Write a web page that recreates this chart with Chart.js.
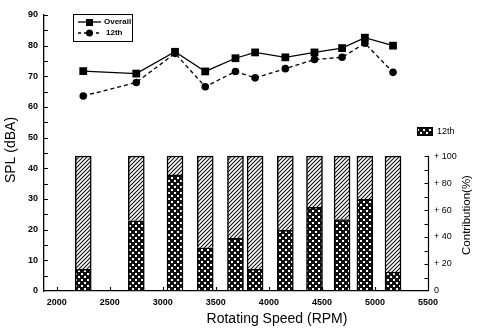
<!DOCTYPE html>
<html>
<head>
<meta charset="utf-8">
<script src="https://cdn.jsdelivr.net/npm/chart.js@4/dist/chart.umd.min.js"></script>
<style>
  html, body { margin: 0; padding: 0; background: #fff; }
  #wrap { width: 477px; height: 332px; }
</style>
</head>
<body>
<div id="wrap"><canvas id="grafico"></canvas></div>
<script>
// rotating speed of each measurement (RPM)
const rpm = [2250, 2750, 3115, 3400, 3685, 3870, 4155, 4430, 4690, 4905, 5170];
// SPL values (dBA)
const overall = [71.7, 70.9, 78.0, 71.6, 75.9, 77.8, 76.2, 77.8, 79.2, 82.6, 80.0];
const order12 = [63.6, 68.0, 77.5, 66.6, 71.6, 69.5, 72.5, 75.5, 76.2, 80.8, 71.3];
// contribution of the 12th order (%)
const contrib12 = [16, 52, 86, 32, 39, 16, 45, 62, 53, 68, 14];
// tick labels
const xTicks = [2000, 2500, 3000, 3500, 4000, 4500, 5000, 5500];
const yTicks = [0, 10, 20, 30, 40, 50, 60, 70, 80, 90];
const contribTicks = [0, 20, 40, 60, 80, 100];

const fonte = '"Liberation Sans", Arial, sans-serif';

function padraoCruzado() {
  var c = document.createElement('canvas');
  c.width = 6; c.height = 6;
  var g = c.getContext('2d');
  g.fillStyle = '#111';
  g.fillRect(0, 0, 6, 6);
  g.fillStyle = '#fff';
  g.fillRect(0, 0, 2, 2);
  g.fillRect(3, 3, 2, 2);
  return g.createPattern(c, 'repeat');
}

function padraoDiagonal() {
  var c = document.createElement('canvas');
  c.width = 4; c.height = 4;
  var g = c.getContext('2d');
  g.fillStyle = '#fff';
  g.fillRect(0, 0, 4, 4);
  g.strokeStyle = '#111';
  g.lineWidth = 1.1;
  g.beginPath();
  g.moveTo(-1, 5); g.lineTo(5, -1);
  g.moveTo(-1, 1); g.lineTo(1, -1);
  g.moveTo(3, 5); g.lineTo(5, 3);
  g.stroke();
  return g.createPattern(c, 'repeat');
}

const cruzado = padraoCruzado();
const diagonal = padraoDiagonal();

// ticks inward, axis titles and legends
const extras = {
  id: 'extras',
  afterDraw(chart) {
    const ctx = chart.ctx;
    const sx = chart.scales.x, sy = chart.scales.y, s2 = chart.scales.y2;
    const area = chart.chartArea;
    ctx.save();
    ctx.strokeStyle = '#000';
    ctx.fillStyle = '#000';
    ctx.lineWidth = 1.2;
    ctx.beginPath();
    // left axis ticks
    for (let v = 5; v <= 90; v += 5) {
      const y = Math.round(sy.getPixelForValue(v)) + 0.5;
      ctx.moveTo(area.left, y);
      ctx.lineTo(area.left + 4, y);
    }
    // x axis ticks
    xTicks.forEach(function (v) {
      const x = Math.round(sx.getPixelForValue(v)) + 0.5;
      ctx.moveTo(x, area.bottom);
      ctx.lineTo(x, area.bottom - 4);
    });
    // right axis line and ticks (0 - 100 %)
    const xr = area.right + 0.5;
    ctx.moveTo(xr, s2.getPixelForValue(0));
    ctx.lineTo(xr, s2.getPixelForValue(100));
    for (let v = 10; v <= 100; v += 10) {
      const y = Math.round(s2.getPixelForValue(v)) + 0.5;
      ctx.moveTo(xr, y);
      ctx.lineTo(xr - 4, y);
    }
    ctx.stroke();

    // axis titles
    ctx.font = '14px ' + fonte;
    ctx.textAlign = 'center';
    ctx.textBaseline = 'middle';
    ctx.fillText('Rotating Speed (RPM)', 277, 319);
    ctx.save();
    ctx.translate(11, 150);
    ctx.rotate(-Math.PI / 2);
    ctx.fillText('SPL (dBA)', 0, 0);
    ctx.restore();
    ctx.save();
    ctx.translate(467, 215);
    ctx.rotate(-Math.PI / 2);
    ctx.font = '11.5px ' + fonte;
    ctx.fillText('Contribution(%)', 0, 0);
    ctx.restore();

    // legend for lines
    ctx.lineWidth = 1;
    ctx.strokeRect(73.5, 14.5, 59, 27);
    ctx.lineWidth = 1.3;
    ctx.beginPath();
    ctx.moveTo(78, 22); ctx.lineTo(101, 22);
    ctx.stroke();
    ctx.fillRect(86, 19, 7, 7);
    ctx.setLineDash([3, 3]);
    ctx.beginPath();
    ctx.moveTo(78, 33); ctx.lineTo(101, 33);
    ctx.stroke();
    ctx.setLineDash([]);
    ctx.beginPath();
    ctx.arc(89.5, 33, 3.5, 0, Math.PI * 2);
    ctx.fill();
    ctx.font = 'bold 8px ' + fonte;
    ctx.textAlign = 'left';
    ctx.fillText('Overall', 104, 22);
    ctx.fillText('12th', 106, 33);

    // legend for bars
    ctx.fillStyle = cruzado;
    ctx.fillRect(417, 127, 16, 9);
    ctx.lineWidth = 1;
    ctx.strokeRect(417.5, 127.5, 15, 8);
    ctx.fillStyle = '#000';
    ctx.font = '9px ' + fonte;
    ctx.fillText('12th', 437, 132);
    ctx.restore();
  }
};

const pontos = (ys) => rpm.map((x, i) => ({ x: x, y: ys[i] }));

var ctx = document.getElementById('grafico').getContext('2d');
var grafico = new Chart(ctx, {
  type: 'bar',
  data: {
    datasets: [{
      type: 'line',
      label: 'Overall',
      data: pontos(overall),
      yAxisID: 'y',
      borderColor: '#000',
      borderWidth: 1.3,
      pointStyle: 'rect',
      pointRadius: 5.5,
      pointBackgroundColor: '#000',
      pointBorderWidth: 0,
      order: 0
    }, {
      type: 'line',
      label: '12th',
      data: pontos(order12),
      yAxisID: 'y',
      borderColor: '#000',
      borderWidth: 1.3,
      borderDash: [4, 3],
      pointStyle: 'circle',
      pointRadius: 3.8,
      pointBackgroundColor: '#000',
      pointBorderWidth: 0,
      order: 0
    }, {
      label: '12th contribution',
      data: pontos(contrib12),
      yAxisID: 'y2',
      stack: 'c',
      backgroundColor: cruzado,
      borderColor: '#000',
      borderWidth: 1.5,
      barThickness: 16,
      order: 1
    }, {
      label: 'others',
      data: pontos(contrib12.map(c => 100 - c)),
      yAxisID: 'y2',
      stack: 'c',
      backgroundColor: diagonal,
      borderColor: '#000',
      borderWidth: 1.5,
      barThickness: 16,
      order: 1
    }]
  },
  options: {
    responsive: true,
    maintainAspectRatio: false,
    animation: false,
    layout: { padding: { top: 15, left: 0, right: 0, bottom: 0 } },
    plugins: {
      legend: { display: false },
      tooltip: { enabled: false }
    },
    scales: {
      x: {
        type: 'linear',
        min: 1880,
        max: 5500,
        offset: false,
        grid: { display: false, drawTicks: false },
        border: { color: '#000', width: 1.3 },
        afterBuildTicks: function (s) { s.ticks = xTicks.map(v => ({ value: v })); },
        afterFit: function (s) { s.height = 41; },
        ticks: {
          color: '#000',
          padding: 6,
          maxRotation: 0,
          font: { family: fonte, size: 9, weight: 'bold' },
          callback: v => String(v)
        }
      },
      y: {
        position: 'left',
        min: 0,
        max: 90,
        grid: { display: false, drawTicks: false },
        border: { color: '#000', width: 1.3 },
        afterBuildTicks: function (s) { s.ticks = yTicks.map(v => ({ value: v })); },
        afterFit: function (s) { s.width = 44; },
        ticks: {
          color: '#000',
          padding: 6,
          font: { family: fonte, size: 9, weight: 'bold' }
        }
      },
      y2: {
        position: 'right',
        min: 0,
        max: 204.5,
        stacked: true,
        grid: { display: false, drawTicks: false },
        border: { display: false },
        afterBuildTicks: function (s) { s.ticks = contribTicks.map(v => ({ value: v })); },
        afterFit: function (s) { s.width = 49; },
        ticks: {
          color: '#000',
          padding: 6,
          font: { family: fonte, size: 9 },
          callback: v => (v ? '+ ' + v : '0')
        }
      }
    }
  },
  plugins: [extras]
});
</script>
</body>
</html>
